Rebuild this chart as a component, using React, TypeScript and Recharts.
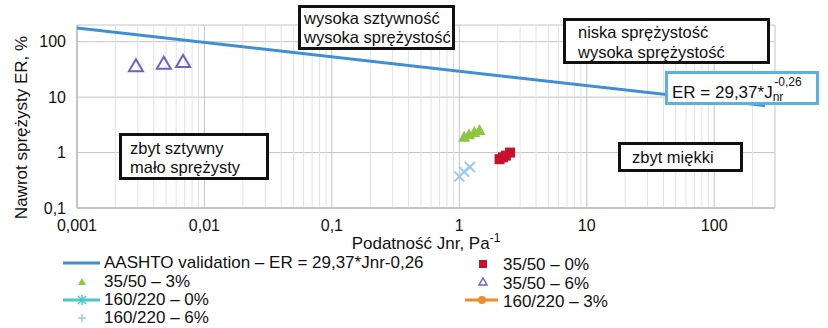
import React from 'react';
import { ScatterChart, Scatter, XAxis, YAxis, CartesianGrid, ReferenceLine } from 'recharts';

const xTicks = [0.001, 0.01, 0.1, 1, 10, 100];
const yTicks = [0.1, 1, 10, 100];
const minorX = [0.002,0.003,0.004,0.005,0.006,0.007,0.008,0.009,0.02,0.03,0.04,0.05,0.06,0.07,0.08,0.09,0.2,0.3,0.4,0.5,0.6,0.7,0.8,0.9,2,3,4,5,6,7,8,9,20,30,40,50,60,70,80,90,200,300];

const trendJnr = [0.001, 250];
const trendER = [177, 7.0];

const b3550_6Jnr = [0.0029, 0.0048, 0.0068];
const b3550_6ER = [36, 40, 43];

const b3550_3Jnr = [1.09, 1.19, 1.31, 1.44];
const b3550_3ER = [1.85, 2.05, 2.25, 2.45];

const b3550_0Jnr = [2.07, 2.2, 2.32, 2.5];
const b3550_0ER = [0.76, 0.82, 0.88, 1.0];

const b160_6Jnr = [1.0, 1.09, 1.21];
const b160_6ER = [0.37, 0.45, 0.55];

const zip = (xs: number[], ys: number[]) => xs.map((x, i) => ({ x, y: ys[i] }));

const FONT = '"Liberation Sans", Arial, sans-serif';
const BLUE = '#3f8fd6';
const GREEN = '#8dc63f';
const RED = '#c8102e';
const PURPLE = '#7460c4';
const LBLUE = '#9ccaee';
const CYAN = '#4fc6cc';
const ORANGE = '#ef8c2a';

const fmt = (v: number) => String(v).replace('.', ',');

const Tri = (props: any) => {
  const { cx, cy } = props;
  return <polygon points={`${cx},${cy - 7} ${cx - 6},${cy + 4} ${cx + 6},${cy + 4}`} fill={GREEN} />;
};
const OpenTri = (props: any) => {
  const { cx, cy } = props;
  return <polygon points={`${cx},${cy - 7} ${cx - 7},${cy + 5} ${cx + 7},${cy + 5}`} fill="none" stroke={PURPLE} strokeWidth={2} />;
};
const Sq = (props: any) => {
  const { cx, cy } = props;
  return <rect x={cx - 5} y={cy - 5} width={10} height={10} fill={RED} />;
};
const Plus = (props: any) => {
  const { cx, cy } = props;
  return (
    <g stroke={LBLUE} strokeWidth={2}>
      <line x1={cx - 5} y1={cy + 5} x2={cx + 5} y2={cy - 5} />
      <line x1={cx - 5} y1={cy - 5} x2={cx + 5} y2={cy + 5} />
    </g>
  );
};
const NoShape = () => <g />;

const boxBase: React.CSSProperties = {
  position: 'absolute',
  boxSizing: 'border-box',
  border: '3px solid #111',
  background: '#fff',
  fontFamily: FONT,
  fontSize: 16.5,
  lineHeight: '19px',
  color: '#111',
  whiteSpace: 'nowrap',
};

const legTxt: React.CSSProperties = {
  position: 'absolute',
  fontFamily: FONT,
  fontSize: 17,
  lineHeight: '19px',
  color: '#111',
  whiteSpace: 'nowrap',
};

export default function App() {
  return (
    <div style={{ position: 'absolute', left: 0, top: 0, width: 828, height: 328, background: '#fff', overflow: 'hidden' }}>
      <ScatterChart width={828} height={328} margin={{ top: 25, right: 53, left: 0, bottom: 0 }}>
        {minorX.map((v) => (
          <ReferenceLine key={v} x={v} stroke="#e2e2e2" strokeWidth={1} ifOverflow="hidden" />
        ))}
        <CartesianGrid stroke="#c4c4c4" strokeWidth={1} />
        <XAxis
          type="number"
          dataKey="x"
          scale="log"
          domain={[0.001, 300]}
          ticks={xTicks}
          tickFormatter={fmt}
          allowDataOverflow
          height={120}
          tickLine={false}
          tickSize={0}
          tickMargin={12}
          stroke="#a8a8a8"
          tick={{ fill: '#111', fontSize: 16, fontFamily: FONT }}
          label={{
            content: (p: any) => {
              const vb = p.viewBox;
              const cx = vb.x + vb.width / 2;
              return (
                <text x={cx} y={vb.y + 41} textAnchor="middle" fontFamily={FONT} fontSize={17} fill="#111">
                  Podatność Jnr, Pa<tspan dy={-7} fontSize={12}>-1</tspan>
                </text>
              );
            },
          }}
        />
        <YAxis
          type="number"
          dataKey="y"
          scale="log"
          domain={[0.1, 200]}
          ticks={yTicks}
          tickFormatter={fmt}
          allowDataOverflow
          width={77}
          tickLine={false}
          tickSize={0}
          tickMargin={11}
          stroke="#a8a8a8"
          tick={{ fill: '#111', fontSize: 16, fontFamily: FONT }}
          label={{
            content: (p: any) => {
              const vb = p.viewBox;
              const x = 21;
              const y = vb.y + vb.height / 2 + 11;
              return (
                <text x={x} y={y} transform={`rotate(-90, ${x}, ${y})`} textAnchor="middle" dominantBaseline="central" fontFamily={FONT} fontSize={17} fill="#111">
                  Nawrot sprężysty ER, %
                </text>
              );
            },
          }}
        />
        <Scatter name="AASHTO" data={zip(trendJnr, trendER)} line={{ stroke: BLUE, strokeWidth: 3 }} shape={NoShape} isAnimationActive={false} />
        <Scatter name="35/50 – 6%" data={zip(b3550_6Jnr, b3550_6ER)} shape={OpenTri} isAnimationActive={false} />
        <Scatter name="160/220 – 6%" data={zip(b160_6Jnr, b160_6ER)} shape={Plus} isAnimationActive={false} />
        <Scatter name="35/50 – 3%" data={zip(b3550_3Jnr, b3550_3ER)} shape={Tri} isAnimationActive={false} />
        <Scatter name="35/50 – 0%" data={zip(b3550_0Jnr, b3550_0ER)} shape={Sq} isAnimationActive={false} />
      </ScatterChart>

      {/* annotation boxes */}
      <div style={{ ...boxBase, left: 298, top: 5, width: 157, height: 45, padding: '1px 0 0 3px' }}>
        wysoka sztywność<br />wysoka sprężystość
      </div>
      <div style={{ ...boxBase, left: 563, top: 18, width: 207, height: 46, padding: '1px 0 0 12px', lineHeight: '20px' }}>
        niska sprężystość<br />wysoka sprężystość
      </div>
      <div style={{ ...boxBase, left: 665, top: 71, width: 154, height: 34, border: '3px solid #5ab2e4' }} />
      <div style={{ ...boxBase, left: 618, top: 142, width: 125, height: 30, padding: '3px 0 0 11px', lineHeight: '18px' }}>
        zbyt miękki
      </div>
      <div style={{ ...boxBase, left: 119, top: 133, width: 150, height: 47, padding: '3px 0 0 8px' }}>
        zbyt sztywny<br />mało sprężysty
      </div>

      {/* legend + formula text */}
      <svg style={{ position: 'absolute', left: 0, top: 0 }} width={828} height={328}>
        <text x={672} y={98} fontFamily={FONT} fontSize={17} fill="#111">
          ER = 29,37*J<tspan dy={3} fontSize={12}>nr</tspan><tspan dx={-9} dy={-15} fontSize={12}>-0,26</tspan>
        </text>
        <line x1={63} y1={263} x2={100} y2={263} stroke={BLUE} strokeWidth={3} />
        <polygon points="82,278 78,285 86,285" fill={GREEN} />
        <line x1={63} y1={300} x2={100} y2={300} stroke={CYAN} strokeWidth={3} />
        <g stroke={CYAN} strokeWidth={1.5}>
          <line x1={78} y1={296} x2={86} y2={304} />
          <line x1={78} y1={304} x2={86} y2={296} />
          <line x1={82} y1={295} x2={82} y2={305} />
        </g>
        <g stroke={LBLUE} strokeWidth={1.5}>
          <line x1={78} y1={318} x2={86} y2={318} />
          <line x1={82} y1={314} x2={82} y2={322} />
        </g>
        <rect x={479} y={260} width={8} height={8} fill={RED} />
        <polygon points="483,278 479,285 487,285" fill="none" stroke={PURPLE} strokeWidth={1.5} />
        <line x1={465} y1={300} x2={498} y2={300} stroke={ORANGE} strokeWidth={3} />
        <circle cx={482} cy={300} r={4} fill={ORANGE} />
      </svg>
      <div style={{ ...legTxt, left: 104, top: 253 }}>AASHTO validation – ER = 29,37*Jnr-0,26</div>
      <div style={{ ...legTxt, left: 104, top: 272 }}>35/50 – 3%</div>
      <div style={{ ...legTxt, left: 104, top: 290 }}>160/220 – 0%</div>
      <div style={{ ...legTxt, left: 104, top: 308 }}>160/220 – 6%</div>
      <div style={{ ...legTxt, left: 503, top: 255 }}>35/50 – 0%</div>
      <div style={{ ...legTxt, left: 503, top: 274 }}>35/50 – 6%</div>
      <div style={{ ...legTxt, left: 503, top: 292 }}>160/220 – 3%</div>
    </div>
  );
}
